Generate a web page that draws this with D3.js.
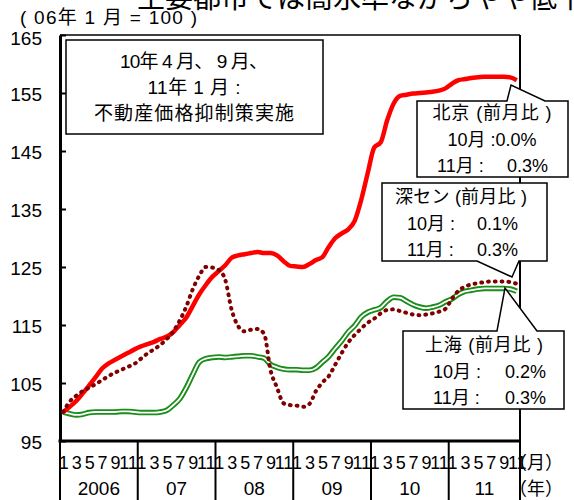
<!DOCTYPE html>
<html><head><meta charset="utf-8">
<script src="https://cdn.jsdelivr.net/npm/d3@7"></script>
<style>
html,body{margin:0;padding:0;background:#fff;}
svg{display:block;font-family:"Liberation Sans","Noto Sans CJK JP",sans-serif;}
</style></head>
<body>
<svg id="chart" width="574" height="500"></svg>
<script>
// ---- data ----
const years = ["2006", "07", "08", "09", "10", "11"];
const monthLabels = ["1", "3", "5", "7", "9", "11"];
const yTicks = [95, 105, 115, 125, 135, 145, 155, 165];
const nMonths = 71; // 2006/1 .. 2011/11
const beijing = [
  100, 100.9, 101.9, 103.2, 104.6, 106, 107.5, 108.4, 109, 109.6, 110.2, 110.8,
  111.3, 111.7, 112.1, 112.6, 113, 113.8, 115, 116.3, 118.3, 120.3, 121.9, 123.3,
  124.3, 125.3, 126.6, 127, 127.2, 127.4, 127.6, 127.4, 127.4, 127, 126, 125.2,
  125.1, 125, 125.5, 126.2, 126.7, 128.5, 130, 130.8, 131.5, 133, 136.6, 141.2,
  145.6, 146.5, 150.3, 153.2, 154.5, 154.7, 154.9, 155, 155.1, 155.2, 155.4, 155.8,
  156.6, 157.2, 157.4, 157.6, 157.7, 157.8, 157.8, 157.8, 157.8, 157.7, 157.2
];
const shenzhen = [
  100, 101.8, 102.8, 103.6, 104.2, 104.8, 105.5, 106.2, 106.8, 107.3, 107.8, 108.3,
  109.2, 110.1, 110.8, 111.6, 112.6, 113.9, 115.8, 118.2, 121.2, 123.5, 125, 124.9,
  124.5, 122.8, 117.6, 114.8, 113.9, 114.2, 114.3, 113.5, 107.2, 104.2, 101.5, 101.2,
  101.1, 100.9, 101.4, 103.6, 105.1, 106.2, 108.2, 110.2, 112, 113.3, 114.4, 115.4,
  116.1, 117, 117.6, 117.7, 117.4, 117.1, 116.8, 116.7, 116.8, 117, 117.3, 117.8,
  119.5, 120.9, 121.6, 122, 122.2, 122.4, 122.5, 122.5, 122.5, 122.4, 122.1
];
const shanghai = [
  100, 99.7, 99.5, 99.6, 99.9, 100, 100, 100, 100, 100.1, 100.1, 100,
  99.9, 99.9, 99.9, 100, 100.3, 101.2, 102.3, 104.2, 106.5, 108.6, 109.2, 109.4,
  109.5, 109.4, 109.5, 109.6, 109.7, 109.7, 109.5, 109.3, 108.2, 107.7, 107.4, 107.3,
  107.3, 107.2, 107.2, 107.6, 108.6, 109.6, 111, 112.3, 113.8, 114.9, 116.4, 117.2,
  117.6, 118, 119.1, 119.8, 119.7, 119.1, 118.5, 118.1, 117.9, 118.1, 118.4, 119,
  119.5, 120.3, 120.8, 121, 121.2, 121.3, 121.3, 121.3, 121.3, 121.2, 120.8
];
const titleText = "主要都市では高水準ながらやや低下";
const subtitleText = "( 06年 1 月 = 100 )";
const noteLines = ["10年 4 月、 9 月、", "11年 1 月 :", "不動産価格抑制策実施"];
const calloutBJ = ["北京 (前月比 )", "10月 :0.0%", ["11月 :", "0.3%"]];
const calloutSZ = ["深セン (前月比 )", ["10月 :", "0.1%"], ["11月 :", "0.3%"]];
const calloutSH = ["上海 (前月比 )", ["10月 :", "0.2%"], ["11月 :", "0.3%"]];

// ---- layout ----
const L = 60, R = 520, T = 35, B = 441;
const svg = d3.select("#chart");
const idx = d3.range(nMonths);
const x = d3.scalePoint().domain(idx).range([L, R]).padding(0.5);
const step = x.step();
const y = d3.scaleLinear().domain([95, 165]).range([B, T]);
const FS = 18, AFS = 19;

// title (cut off at top)
svg.append("text").attr("x", 137).attr("y", 8).attr("font-size", 28)
  .attr("textLength", 448).attr("lengthAdjust", "spacing").text(titleText);
svg.append("text").attr("x", 20).attr("y", 24).attr("font-size", 19)
  .attr("textLength", 177).attr("lengthAdjust", "spacing").text(subtitleText);

// frame top & right
svg.append("line").attr("x1", L).attr("x2", R).attr("y1", T).attr("y2", T)
  .attr("stroke", "#000").attr("stroke-width", 1.5);
svg.append("line").attr("x1", R).attr("x2", R).attr("y1", T).attr("y2", 500)
  .attr("stroke", "#000").attr("stroke-width", 2);

// year separators
const sepX = years.map((d, k) => L + 12 * k * step);
svg.selectAll(".sep").data(sepX).enter().append("line")
  .attr("x1", d => d).attr("x2", d => d).attr("y1", B).attr("y2", 500)
  .attr("stroke", "#000").attr("stroke-width", 2);

// y axis
const yAxis = svg.append("g").attr("transform", `translate(${L},0)`)
  .call(d3.axisLeft(y).tickValues(yTicks).tickSizeInner(-6).tickSizeOuter(0).tickPadding(18));
yAxis.select(".domain").attr("stroke-width", 3);
yAxis.selectAll(".tick line").attr("stroke-width", 2);
yAxis.selectAll("text").attr("font-size", AFS).attr("fill", "#000")
  .attr("font-family", "Liberation Sans, sans-serif")
  .attr("y", d => d === 165 ? 3 : 1.5);

// x axis
const tickIdx = idx.filter(i => i % 2 === 0);
const xAxis = svg.append("g").attr("transform", `translate(0,${B})`)
  .call(d3.axisBottom(x).tickValues(tickIdx).tickSize(0).tickPadding(15)
    .tickFormat(i => monthLabels[(i % 12) / 2]));
xAxis.select(".domain").remove();
xAxis.selectAll("text").attr("font-size", FS).attr("fill", "#000")
  .attr("font-family", "Liberation Sans, sans-serif");
svg.append("line").attr("x1", L - 1.5).attr("x2", R).attr("y1", B).attr("y2", B)
  .attr("stroke", "#000").attr("stroke-width", 3);

// year labels
svg.selectAll(".yr").data(years).enter().append("text")
  .attr("x", (d, k) => (L + 12 * k * step + Math.min(R, L + 12 * (k + 1) * step)) / 2)
  .attr("y", 495).attr("text-anchor", "middle").attr("font-size", AFS).text(d => d);
svg.append("text").attr("x", 509).attr("y", 469).attr("font-size", FS).text("（月）");
svg.append("text").attr("x", 509).attr("y", 495).attr("font-size", FS).text("（年）");

// lines
const line = d3.line().x((d, i) => x(i)).y(d => y(d)).curve(d3.curveMonotoneX);
const gL = svg.append("g");
gL.append("path").attr("d", line(shanghai)).attr("fill", "none")
  .attr("stroke", "#1a8c1a").attr("stroke-width", 5.5);
gL.append("path").attr("d", line(shanghai)).attr("fill", "none")
  .attr("stroke", "#fff").attr("stroke-width", 1.8);
gL.append("path").attr("d", line(beijing)).attr("fill", "none")
  .attr("stroke", "#ff0000").attr("stroke-width", 4.5).attr("stroke-linejoin", "round");
gL.append("path").attr("d", line(shenzhen)).attr("fill", "none")
  .attr("stroke", "#800000").attr("stroke-width", 4)
  .attr("stroke-dasharray", "0.8 6").attr("stroke-linecap", "round");

// note box
svg.append("rect").attr("x", 66).attr("y", 40).attr("width", 257).attr("height", 94)
  .attr("fill", "#fff").attr("stroke", "#000").attr("stroke-width", 1.5);
const noteW = [148, 93, 200];
noteLines.forEach((t, k) => {
  svg.append("text").attr("x", 194).attr("y", 68 + k * 26).attr("text-anchor", "middle")
    .attr("font-size", 19).attr("textLength", noteW[k]).attr("lengthAdjust", "spacing").text(t);
});

// callouts
function callout(pathPts, lines, cx, x0, x1, y0, titleW) {
  svg.append("path").attr("d", "M" + pathPts.map(p => p.join(",")).join("L") + "Z")
    .attr("fill", "#fff").attr("stroke", "#000").attr("stroke-width", 1.5)
    .attr("stroke-linejoin", "miter");
  lines.forEach((ln, k) => {
    const yy = y0 + k * 26.5;
    if (typeof ln === "string") {
      const t = svg.append("text").attr("x", cx).attr("y", yy).attr("text-anchor", "middle")
        .attr("font-size", FS).text(ln);
      if (k === 0) t.attr("textLength", titleW).attr("lengthAdjust", "spacing");
    } else {
      svg.append("text").attr("x", x0).attr("y", yy).attr("font-size", FS).text(ln[0]);
      svg.append("text").attr("x", x1).attr("y", yy).attr("text-anchor", "end")
        .attr("font-size", FS).text(ln[1]);
    }
  });
}
callout([[417,101],[507,101],[511,85],[545,101],[568,101],[568,177],[417,177]],
  calloutBJ, 492, 437, 548, 119, 119);
callout([[382,183],[547,183],[547,261],[519,261],[512,277],[477,261],[382,261]],
  calloutSZ, 461, 407, 518, 203, 132);
callout([[403,331],[497,331],[505,288],[537,331],[564,331],[564,409],[403,409]],
  calloutSH, 484, 433, 546, 351, 118);
</script>
</body></html>
